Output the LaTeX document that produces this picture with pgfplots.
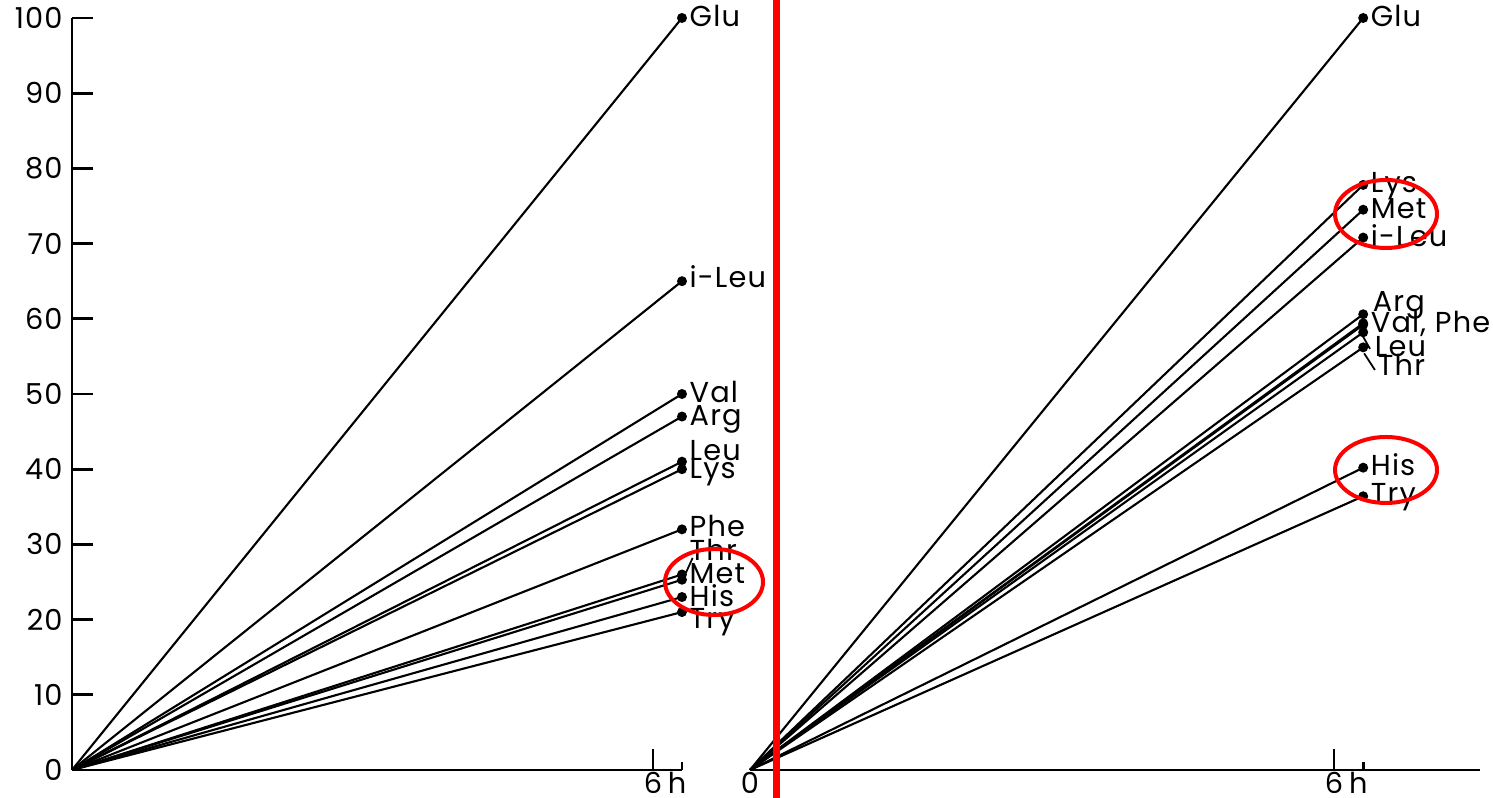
\documentclass[border=0pt]{standalone}
\usepackage{pgfplots}
\pgfplotsset{compat=1.18}
\usepackage{fontspec}
\setmainfont{Poppins}[LetterSpace=4]
\newcommand{\lab}{\fontsize{8.2}{9}\selectfont}
\newcommand{\tck}{\fontsize{8.2}{9}\selectfont}
\tikzset{lbl/.style={anchor=base west, inner sep=0pt, xshift=0.07cm, yshift=-0.09cm, font=\lab},
  hlbl/.style={anchor=base, inner sep=0pt, text depth=0pt, yshift=-0.24cm, font=\tck}}
\begin{document}
\begin{tikzpicture}[x=1cm,y=1cm]
\useasboundingbox (0,0) rectangle (14.93,7.98);
\pgfplotsset{
  amino/.style={black, line width=0.6pt, mark=*, mark size=1.1pt, mark indices={2}},
  common/.style={scale only axis, height=7.52cm, ymin=0, ymax=100, clip=false,
    anchor=south west, tick align=inside, major tick length=0.21cm,
    minor tick length=0.08cm,
    axis line style={line width=0.8pt, -}, tick style={line width=0.8pt, black},
    /pgf/number format/assume math mode=true,
    ticklabel style={font=\tck},
    xticklabel style={anchor=base, inner sep=0pt, text depth=0pt, yshift=-0.24cm},
  },
}
% ---------------- left panel
\begin{axis}[common, at={(0.72cm,0.28cm)}, width=6.10cm, xmin=0, xmax=6.3,
  axis x line*=bottom, axis y line*=left, ytick={0,10,...,100},
  yticklabel style={xshift=0.03cm},
  xtick={6}, xticklabels={6}, minor xtick={6.3}]
\addplot[amino] coordinates {(0,0) (6.3,100)};
\addplot[amino] coordinates {(0,0) (6.3,65)};
\addplot[amino] coordinates {(0,0) (6.3,50)};
\addplot[amino] coordinates {(0,0) (6.3,47)};
\addplot[amino] coordinates {(0,0) (6.3,41)};
\addplot[amino] coordinates {(0,0) (6.3,40)};
\addplot[amino] coordinates {(0,0) (6.3,32)};
\addplot[amino] coordinates {(0,0) (6.3,26)};
\addplot[amino] coordinates {(0,0) (6.3,25.3)};
\addplot[amino] coordinates {(0,0) (6.3,23)};
\addplot[amino] coordinates {(0,0) (6.3,21)};
\node[hlbl] at (axis cs:6.25,0) {h};
\node[lbl] at (axis cs:6.3,100) {Glu};
\node[lbl] at (axis cs:6.3,65.3) {i-Leu};
\node[lbl] at (axis cs:6.3,50) {Val};
\node[lbl] at (axis cs:6.3,47) {Arg};
\node[lbl] at (axis cs:6.3,42.4) {Leu};
\node[lbl] at (axis cs:6.3,40) {Lys};
\node[lbl] at (axis cs:6.3,32.3) {Phe};
\node[lbl] at (axis cs:6.3,29.1) {Thr};
\node[lbl] at (axis cs:6.3,26) {Met};
\node[lbl] at (axis cs:6.3,23) {His};
\node[lbl] at (axis cs:6.3,20) {Try};
\draw[line width=0.5pt] (axis cs:6.34,26.2) -- (axis cs:6.41,28.2);
\end{axis}
% ---------------- right panel
\begin{axis}[common, at={(7.50cm,0.28cm)}, width=7.30cm, xmin=0, xmax=7.5,
  axis x line*=bottom, axis y line=none, ytick=\empty,
  xtick={6}, xticklabels={6}, minor xtick={6.3}]
\addplot[amino] coordinates {(0,0) (6.3,100)};
\addplot[amino] coordinates {(0,0) (6.3,77.8)};
\addplot[amino] coordinates {(0,0) (6.3,74.5)};
\addplot[amino] coordinates {(0,0) (6.3,70.8)};
\addplot[amino] coordinates {(0,0) (6.3,60.6)};
\addplot[amino] coordinates {(0,0) (6.3,59.4)};
\addplot[amino] coordinates {(0,0) (6.3,59.2)};
\addplot[amino] coordinates {(0,0) (6.3,58.2)};
\addplot[amino] coordinates {(0,0) (6.3,56.2)};
\addplot[amino] coordinates {(0,0) (6.3,40.2)};
\addplot[amino] coordinates {(0,0) (6.3,36.4)};
\node[hlbl] at (axis cs:0,0) {0};
\node[hlbl] at (axis cs:6.25,0) {h};
\node[lbl] at (axis cs:6.3,100) {Glu};
\node[lbl] at (axis cs:6.3,78) {Lys};
\node[lbl] at (axis cs:6.3,74.5) {Met};
\node[lbl] at (axis cs:6.3,70.8) {i-Leu};
\node[lbl, xshift=0.02cm] at (axis cs:6.3,62.1) {Arg};
\node[lbl, xshift=0.0cm] at (axis cs:6.3,59.4) {Val, Phe};
\node[lbl, xshift=0.04cm] at (axis cs:6.3,56.2) {Leu};
\node[lbl, xshift=0.07cm] at (axis cs:6.3,53.6) {Thr};
\draw[line width=0.5pt] (axis cs:6.30,57.6) -- (axis cs:6.37,56.0);
\draw[line width=0.5pt] (axis cs:6.31,55.4) -- (axis cs:6.42,53.2);
\node[lbl] at (axis cs:6.3,40.3) {His};
\node[lbl] at (axis cs:6.3,36.6) {Try};
\end{axis}
% ---------------- red annotations
\draw[red, line width=0.075cm] (7.765,0) -- (7.765,7.98);
\draw[red, line width=0.04cm] (7.14,2.16) ellipse [x radius=0.49, y radius=0.33];
\draw[red, line width=0.04cm] (13.86,5.84) ellipse [x radius=0.51, y radius=0.34];
\draw[red, line width=0.04cm] (13.86,3.28) ellipse [x radius=0.51, y radius=0.33];
\end{tikzpicture}
\end{document}
